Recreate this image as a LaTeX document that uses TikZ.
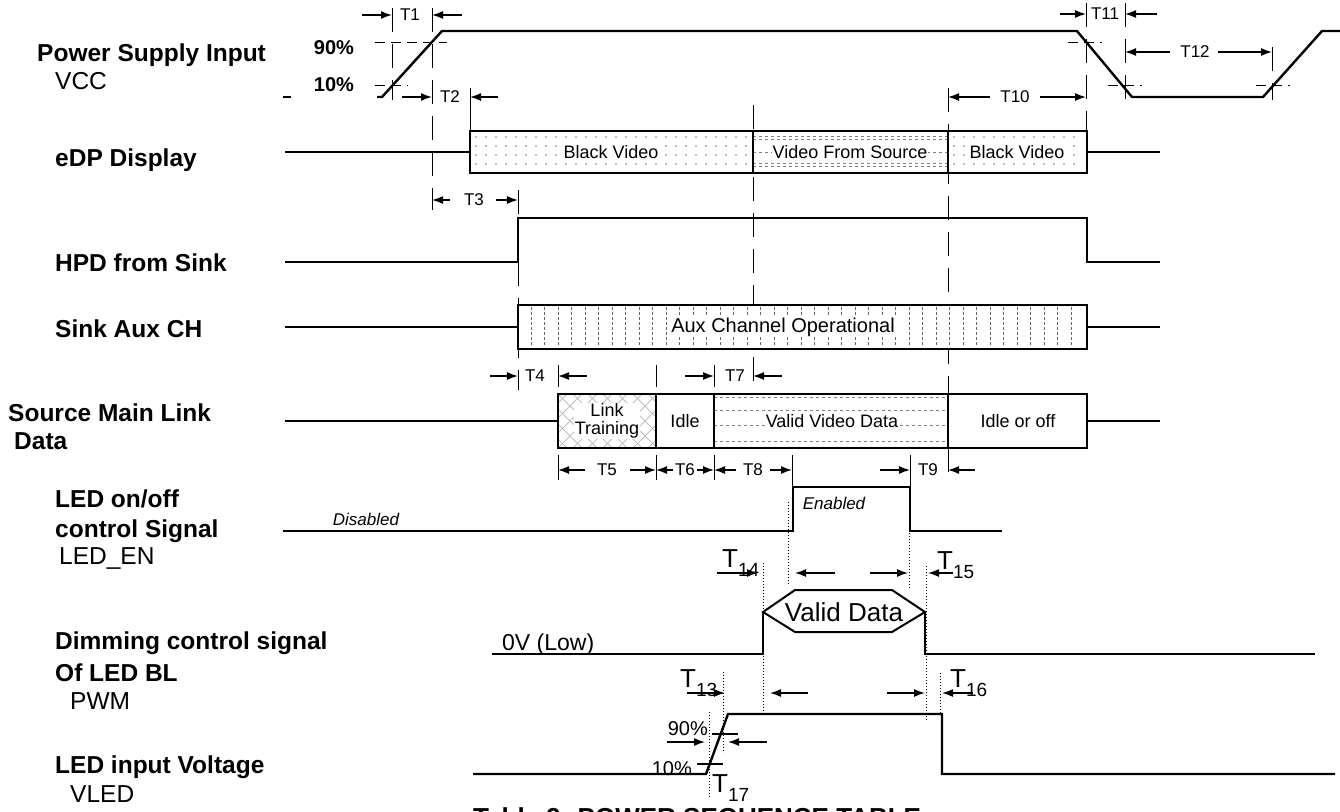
\documentclass[tikz,border=0pt]{standalone}
\usepackage{fontspec}
\setmainfont{Liberation Sans}
\usetikzlibrary{arrows.meta,positioning}

\newcommand{\Tsub}[1]{T\raisebox{-9pt}{\fontsize{19}{20}\selectfont #1}}

\begin{document}
\begin{tikzpicture}[
    x=1pt, y=-1pt,
    >={Latex[length=11pt,width=8pt]},
    every node/.style={inner sep=0pt},
    sig/.style={line width=2.4pt},
    frame/.style={line width=2pt},
    bound/.style={line width=1pt, dash pattern=on 24pt off 12pt},
    level/.style={line width=1pt, dash pattern=on 10pt off 6pt},
    bar/.style={line width=1pt},
    dim/.style={line width=1.4pt, ->},
    dotline/.style={line width=0.8pt, dash pattern=on 1pt off 2pt},
    lbl/.style={anchor=base west, font=\fontsize{24.5}{28}\bfseries},
    sublbl/.style={anchor=base west, font=\fontsize{24.5}{28}\selectfont},
    tlab/.style={font=\fontsize{17}{19}\selectfont},
    boxtxt/.style={font=\fontsize{18}{20}\selectfont, fill=white, inner sep=1pt},
    pct/.style={font=\fontsize{20}{22}\bfseries},
    big/.style={anchor=base west, font=\fontsize{26}{28}\selectfont},
  ]
    \useasboundingbox (0,0) rectangle (1340,811);

    % signal names
    \node[lbl] (nVCC) at (37,61) {Power Supply Input};
    \node[sublbl] (sVCC) at (55,89) {VCC};
    \node[lbl] (nEDP) at (55,166) {eDP Display};
    \node[lbl] (nHPD) at (55,271) {HPD from Sink};
    \node[lbl] (nAUX) at (55,337) {Sink Aux CH};
    \node[lbl] (nSRC) at (8,421) {Source Main Link};
    \node[lbl] (nSRCb) at (14,449) {Data};
    \node[lbl] (nLEDa) at (55,507) {LED on/off};
    \node[lbl] (nLEDb) at (55,537) {control Signal};
    \node[sublbl] (sLED) at (59,564) {LED\_EN};
    \node[lbl] (nPWMa) at (55,649) {Dimming control signal};
    \node[lbl] (nPWMb) at (55,681) {Of LED BL};
    \node[sublbl] (sPWM) at (70,709) {PWM};
    \node[lbl] (nVLa) at (55,773) {LED input Voltage};
    \node[sublbl] (sVL) at (70,802) {VLED};

    % boundary lines
    \draw[bound] (392,8) -- (392,100);
    \draw[bound] (432,8) -- (432,210);
    \draw[bar] (470,88) -- (470,131);
    \draw[bound] (518,190) -- (518,390);
    \draw[bound] (753,105) -- (753,398);
    \draw[bound] (948,88) -- (948,482);
    \draw[bound] (1086,3) -- (1086,131);
    \draw[bound] (1125,3) -- (1125,110);
    \draw[bound] (1272,47) -- (1272,100);
    \foreach \x in {558,656,714}{
      \draw[bar] (\x,365) -- (\x,387);
      \draw[bar] (\x,455) -- (\x,480);
    }
    \draw[bar] (792,455) -- (792,487);
    \draw[bar] (910,455) -- (910,487);

    % VCC
    \draw[sig] (283,97) -- (291,97);
    \draw[sig] (377,97) -- (382,97) -- (442,31) -- (1077,31) -- (1132,97)
      -- (1263,97) -- (1322,31) -- (1340,31);
    \draw[level] (375,42) -- (447,42);
    \draw[level] (375,85) -- (408,85);
    \draw[level] (1068,42) -- (1102,42);
    \draw[level] (1108,85) -- (1142,85);
    \draw[level] (1256,85) -- (1290,85);
    \node[pct] (p90) at (334,48) {90\%};
    \node[pct] (p10) at (334,85) {10\%};

    \draw[dim] (362,15) -- (392,15);
    \node[tlab] (t1) at (410,15) {T1};
    \draw[dim] (462,15) -- (432,15);
    \draw[dim] (402,97) -- (432,97);
    \node[tlab] (t2) at (450,97) {T2};
    \draw[dim] (498,97) -- (470,97);
    \draw[dim] (990,97) -- (948,97);
    \node[tlab] (t10) at (1015,97) {T10};
    \draw[dim] (1040,97) -- (1086,97);
    \draw[dim] (1060,14) -- (1086,14);
    \node[tlab] (t11) at (1105,14) {T11};
    \draw[dim] (1157,14) -- (1125,14);
    \draw[dim] (1170,52) -- (1125,52);
    \node[tlab] (t12) at (1195,52) {T12};
    \draw[dim] (1218,52) -- (1272,52);

    % eDP display
    \draw[sig] (285,152) -- (470,152);
    \draw[sig] (1087,152) -- (1160,152);
    \fill[white] (470,131) rectangle (1087,173);
    \foreach \y in {137,146,...,169}{
      \foreach \x in {476,486,...,748} \fill[gray] (\x,\y) circle (0.8pt);
      \foreach \x in {954,964,...,1082} \fill[gray] (\x,\y) circle (0.8pt);
    }
    \draw[gray, dashed, line width=1pt] (753,136) -- (948,136) (753,139) -- (948,139)
      (753,163) -- (948,163) (753,166) -- (948,166);
    \draw[gray, dashed] (753,152) -- (948,152);
    \node[boxtxt] (bv1) at (611,152) {Black Video};
    \node[boxtxt] (vfs) at (850,152) {Video From Source};
    \node[boxtxt] (bv2) at (1017,152) {Black Video};
    \draw[frame] (470,131) rectangle (1087,173) (753,131) -- (753,173) (948,131) -- (948,173);

    \draw[dim] (450,200) -- (432,200);
    \node[tlab] (t3) at (474,200) {T3};
    \draw[dim] (496,200) -- (518,200);

    % HPD
    \draw[sig] (285,262) -- (518,262) -- (518,218) -- (1087,218) -- (1087,262) -- (1160,262);

    % Aux channel
    \draw[sig] (285,327) -- (518,327);
    \draw[sig] (1087,327) -- (1160,327);
    \fill[white] (518,305) rectangle (1087,349);
    \foreach \x in {531,544.5,...,1080}
      \draw[gray!80!black, line width=0.8pt, dash pattern=on 3pt off 2pt] (\x,307) -- (\x,347);
    \node[boxtxt, font=\fontsize{20}{22}\selectfont] (aux) at (783,327) {Aux Channel Operational};
    \draw[frame] (518,305) rectangle (1087,349);

    \draw[dim] (490,376) -- (518,376);
    \node[tlab] (t4) at (535,376) {T4};
    \draw[dim] (587,376) -- (558,376);
    \draw[dim] (685,376) -- (714,376);
    \node[tlab] (t7) at (735,376) {T7};
    \draw[dim] (782,376) -- (753,376);

    % Source main link
    \draw[sig] (285,421) -- (558,421);
    \draw[sig] (1087,421) -- (1160,421);
    \fill[white] (558,394) rectangle (1087,448);
    \begin{scope}
      \clip (558,394) rectangle (656,448);
      \foreach \k in {-60,-45,...,105}{
        \draw[gray!50, line width=0.8pt] (558+\k,448) -- (612+\k,394);
        \draw[gray!50, line width=0.8pt] (558+\k,394) -- (612+\k,448);
      }
    \end{scope}
    \draw[gray, dashed] (714,397) -- (948,397) (714,410) -- (948,410)
      (714,425) -- (948,425) (714,441) -- (948,441);
    \node[boxtxt, align=center] (lt) at (607,421) {Link\\[-2pt]Training};
    \node[boxtxt] (idle) at (685,421) {Idle};
    \node[boxtxt] (vvd) at (832,421) {Valid Video Data};
    \node[boxtxt] (ioo) at (1018,421) {Idle or off};
    \draw[frame] (558,394) rectangle (1087,448) (656,394) -- (656,448)
      (714,394) -- (714,448) (948,394) -- (948,448);

    \draw[dim] (585,470) -- (558,470);
    \node[tlab] (t5) at (607,470) {T5};
    \draw[dim] (630,470) -- (656,470);
    \draw[dim] (673,470) -- (656,470);
    \node[tlab] (t6) at (685,470) {T6};
    \draw[dim] (697,470) -- (714,470);
    \draw[dim] (736,470) -- (714,470);
    \node[tlab] (t8) at (753,470) {T8};
    \draw[dim] (770,470) -- (792,470);
    \draw[dim] (880,470) -- (910,470);
    \node[tlab] (t9) at (928,470) {T9};
    \draw[dim] (975,470) -- (948,470);

    % LED_EN
    \draw[sig] (283,531) -- (793,531) -- (793,487) -- (910,487) -- (910,531) -- (1002,531);
    \node[tlab, font=\fontsize{17}{19}\itshape] (dis) at (366,519) {Disabled};
    \node[tlab, font=\fontsize{17}{19}\itshape] (ena) at (834,503) {Enabled};

    \draw[dotline] (788,502) -- (788,585);
    \draw[dotline] (909,503) -- (909,588);
    \draw[dotline] (763,563) -- (763,712);
    \draw[dotline] (926,566) -- (926,720);
    \draw[dotline] (940,673) -- (940,714);
    \draw[dotline] (723,672) -- (723,753);
    \draw[dotline] (709,712) -- (709,797);

    \node[big] (t14) at (722,567) {\Tsub{14}};
    \draw[dim] (717,573) -- (758,573);
    \draw[dim] (835,573) -- (795,573);
    \draw[dim] (870,573) -- (908,573);
    \draw[dim] (953,573) -- (928,573);
    \node[big] (t15) at (937,569) {\Tsub{15}};

    % PWM
    \draw[sig] (492,654) -- (763,654) -- (763,612);
    \draw[sig] (925,612) -- (925,654) -- (1315,654);
    \draw[line width=2pt] (763,612) -- (795,590) -- (892,590) -- (925,612)
      -- (892,632) -- (795,632) -- cycle;
    \node[font=\fontsize{26}{28}\selectfont] (vd) at (844,612) {Valid Data};
    \node[big, font=\fontsize{23}{25}\selectfont] (low) at (502,650) {0V (Low)};

    \node[big] (t13) at (680,687) {\Tsub{13}};
    \draw[dim] (687,693) -- (725,693);
    \draw[dim] (808,693) -- (770,693);
    \draw[dim] (887,693) -- (925,693);
    \draw[dim] (973,693) -- (942,693);
    \node[big] (t16) at (950,687) {\Tsub{16}};

    % VLED
    \draw[sig] (473,774) -- (706,774) -- (728,714) -- (942,714) -- (942,774) -- (1335,774);
    \draw[bar, line width=1.5pt] (712,734) -- (738,734);
    \draw[bar, line width=1.5pt] (697,764) -- (723,764);
    \node[anchor=east, font=\fontsize{20}{22}\selectfont] (v90) at (708,729) {90\%};
    \node[anchor=east, font=\fontsize{20}{22}\selectfont] (v10) at (692,769) {10\%};
    \draw[dim] (667,742) -- (705,742);
    \draw[dim] (767,742) -- (728,742);
    \node[big] (t17) at (712,792) {\Tsub{17}};

    \node[lbl, font=\fontsize{26}{28}\bfseries] (cap) at (473,826) {Table 9. POWER SEQUENCE TABLE};
  \end{tikzpicture}
\end{document}
